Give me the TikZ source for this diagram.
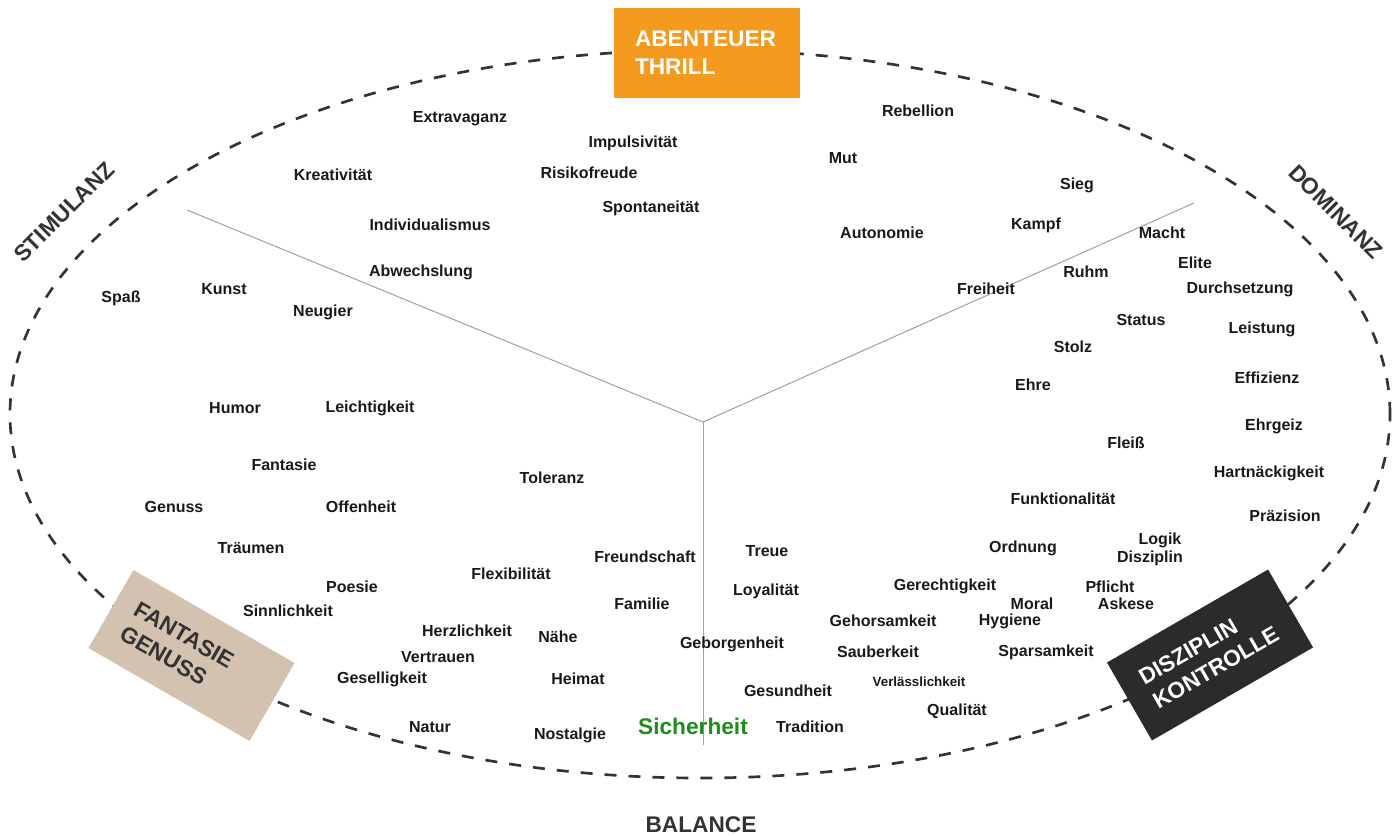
\documentclass[tikz,border=0pt]{standalone}
\usepackage{fontspec}
\setmainfont{Liberation Sans}
\definecolor{abenteuer}{HTML}{F39A1F}
\definecolor{fantasie}{HTML}{D3C2AF}
\definecolor{kontrolle}{HTML}{2B2B2B}
\definecolor{sicher}{HTML}{1E8C1E}
\definecolor{rand}{HTML}{333333}
\definecolor{achse}{HTML}{A0A0A0}
\begin{document}
\begin{tikzpicture}[x=0.75pt,y=-0.75pt,
  wort/.style={font=\bfseries\fontsize{12}{14}\selectfont,text=black!90,inner sep=1pt},
  ecke/.style={font=\bfseries\fontsize{17}{21}\selectfont,text=rand},
  feld/.style={font=\bfseries\fontsize{17}{21}\selectfont,minimum width=139.5pt,minimum height=67.5pt,
    text width=108pt,inner xsep=15.75pt,align=left}]
\useasboundingbox (0,0) rectangle (1394,835);
% rand
\coordinate (ell) at (700,414);
\draw[rand,line width=2pt,dash pattern=on 9pt off 9pt] (ell) ellipse [x radius=517.5pt,y radius=273pt];
% achsen
\coordinate (mid) at (703,422);
\coordinate (stim) at (187,210);
\coordinate (dom) at (1194,203);
\coordinate (bal) at (703,745);
\draw[achse,line width=0.75pt] (mid) -- (stim);
\draw[achse,line width=0.75pt] (mid) -- (dom);
\draw[achse,line width=0.75pt] (mid) -- (bal);
% ecken
\node[feld,fill=abenteuer,text=white] (thrill) at (707,53) {ABENTEUER\\THRILL};
\node[feld,fill=fantasie,text=rand,rotate=-30] (genuss) at (191.5,655.5) {FANTASIE\\GENUSS};
\node[feld,fill=kontrolle,text=white,rotate=30] (kontrolle) at (1210,655) {DISZIPLIN\\KONTROLLE};
\node[ecke,rotate=45] (stimulanz) at (64,212) {STIMULANZ};
\node[ecke,rotate=-45] (dominanz) at (1336,212) {DOMINANZ};
\node[ecke] (balance) at (701,825) {BALANCE};
% werte
\node[wort] (extravaganz) at (460,119) {Extravaganz};
\node[wort] (impulsiv) at (633,143) {Impulsivität};
\node[wort] (rebellion) at (918,111) {Rebellion};
\node[wort] (kreativ) at (333,175) {Kreativität};
\node[wort] (risiko) at (589,173) {Risikofreude};
\node[wort] (mut) at (843,158) {Mut};
\node[wort] (sieg) at (1077,185) {Sieg};
\node[wort] (spontan) at (651,208) {Spontaneität};
\node[wort] (individ) at (430,225) {Individualismus};
\node[wort] (autonomie) at (882,233) {Autonomie};
\node[wort] (kampf) at (1036,225) {Kampf};
\node[wort] (macht) at (1162,233) {Macht};
\node[wort] (elite) at (1195,263) {Elite};
\node[wort] (abwechslung) at (421,272) {Abwechslung};
\node[wort] (ruhm) at (1086,272) {Ruhm};
\node[wort] (freiheit) at (986,289) {Freiheit};
\node[wort] (durchsetzung) at (1240,289) {Durchsetzung};
\node[wort] (spass) at (121,298) {Spaß};
\node[wort] (kunst) at (224,289) {Kunst};
\node[wort] (neugier) at (323,312) {Neugier};
\node[wort] (status) at (1141,320) {Status};
\node[wort] (leistung) at (1262,329) {Leistung};
\node[wort] (stolz) at (1073,347) {Stolz};
\node[wort] (ehre) at (1033,385) {Ehre};
\node[wort] (effizienz) at (1267,378) {Effizienz};
\node[wort] (humor) at (235,408) {Humor};
\node[wort] (leicht) at (370,408) {Leichtigkeit};
\node[wort] (ehrgeiz) at (1274,426) {Ehrgeiz};
\node[wort] (fleiss) at (1126,443) {Fleiß};
\node[wort] (fantasiew) at (284,465) {Fantasie};
\node[wort] (toleranz) at (552,478) {Toleranz};
\node[wort] (hartnaeckig) at (1269,473) {Hartnäckigkeit};
\node[wort] (funktion) at (1063,499) {Funktionalität};
\node[wort] (genussw) at (174,507) {Genuss};
\node[wort] (offenheit) at (361,507) {Offenheit};
\node[wort] (praezision) at (1285,516) {Präzision};
\node[wort] (logik) at (1160,540) {Logik};
\node[wort] (disziplinw) at (1150,558) {Disziplin};
\node[wort] (traeumen) at (251,548) {Träumen};
\node[wort] (ordnung) at (1023,548) {Ordnung};
\node[wort] (treue) at (767,551) {Treue};
\node[wort] (freundschaft) at (645,557) {Freundschaft};
\node[wort] (flexibel) at (511,574) {Flexibilität};
\node[wort] (poesie) at (352,587) {Poesie};
\node[wort] (loyal) at (766,591) {Loyalität};
\node[wort] (gerecht) at (945,586) {Gerechtigkeit};
\node[wort] (pflicht) at (1110,587) {Pflicht};
\node[wort] (moral) at (1032,604) {Moral};
\node[wort] (askese) at (1126,604) {Askese};
\node[wort] (familie) at (642,604) {Familie};
\node[wort] (sinnlich) at (288,611) {Sinnlichkeit};
\node[wort] (gehorsam) at (883,621) {Gehorsamkeit};
\node[wort] (hygiene) at (1010,621) {Hygiene};
\node[wort] (herzlich) at (467,631) {Herzlichkeit};
\node[wort] (naehe) at (558,637) {Nähe};
\node[wort] (geborgen) at (732,644) {Geborgenheit};
\node[wort] (sauber) at (878,652) {Sauberkeit};
\node[wort] (sparsam) at (1046,652) {Sparsamkeit};
\node[wort] (vertrauen) at (438,657) {Vertrauen};
\node[wort] (gesellig) at (382,679) {Geselligkeit};
\node[wort] (heimat) at (578,679) {Heimat};
\node[wort] (gesund) at (788,691) {Gesundheit};
\node[wort,font=\bfseries\fontsize{10}{12}\selectfont] (verlass) at (919,682) {Verlässlichkeit};
\node[wort] (qualitaet) at (957,711) {Qualität};
\node[wort] (natur) at (430,727) {Natur};
\node[wort] (nostalgie) at (570,735) {Nostalgie};
\node[wort,font=\bfseries\fontsize{17}{20}\selectfont,text=sicher] (sicherheit) at (693,726) {Sicherheit};
\node[wort] (tradition) at (810,727) {Tradition};
\end{tikzpicture}
\end{document}
